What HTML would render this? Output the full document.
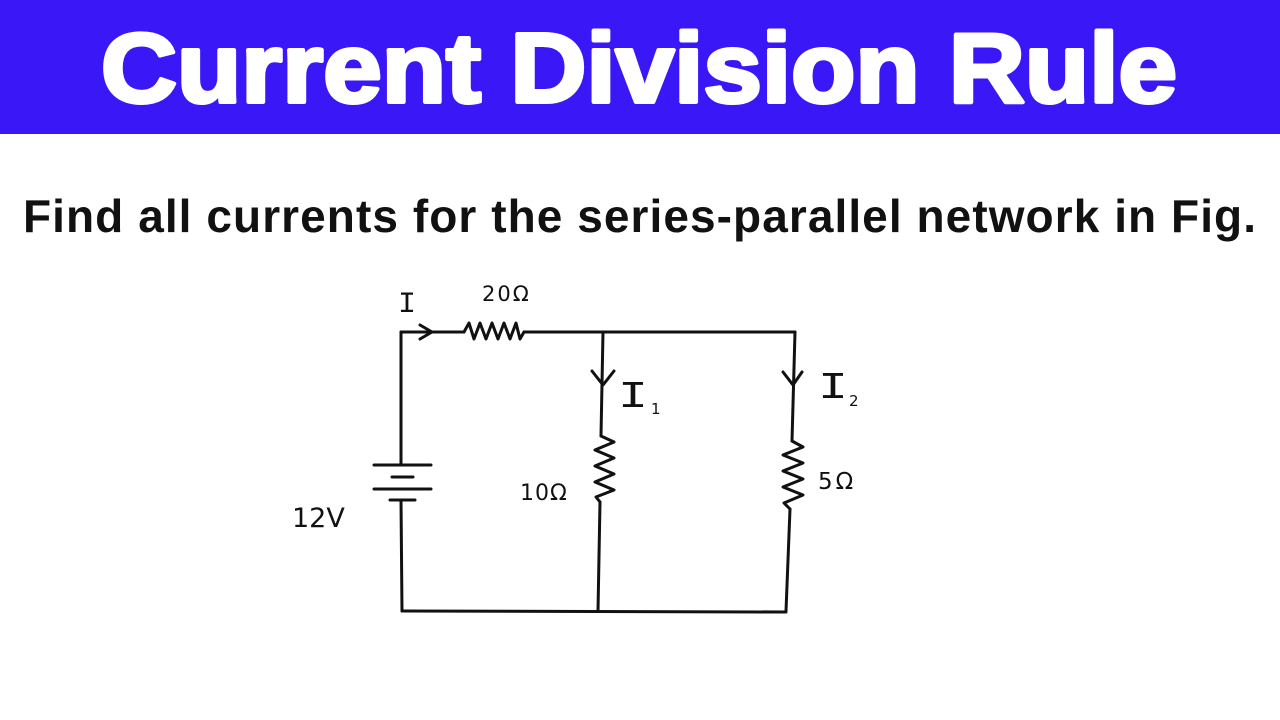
<!DOCTYPE html>
<html>
<head>
<meta charset="utf-8">
<style>
html,body{margin:0;padding:0;background:#fff;}
body{width:1280px;height:720px;overflow:hidden;position:relative;}
svg{display:block;}
</style>
</head>
<body>
<svg width="1280" height="720" viewBox="0 0 1280 720" xmlns="http://www.w3.org/2000/svg">
  <rect x="0" y="0" width="1280" height="720" fill="#ffffff"/>
  <!-- banner -->
  <rect x="0" y="0" width="1280" height="134" fill="#3a17f7"/>
  <text x="101" y="102" font-family="Liberation Sans, sans-serif" font-weight="bold" font-size="98" fill="#ffffff" stroke="#ffffff" stroke-width="4" stroke-linejoin="round" textLength="1076" lengthAdjust="spacingAndGlyphs">Current Division Rule</text>

  <!-- subtitle -->
  <text x="23" y="232" font-family="Liberation Sans, sans-serif" font-weight="bold" font-size="46" fill="#111" textLength="1233" lengthAdjust="spacing">Find all currents for the series-parallel network in Fig.</text>

  <!-- circuit -->
  <g fill="none" stroke="#111" stroke-width="3" stroke-linecap="round" stroke-linejoin="round">
    <path d="M401 332 L401 465"/>
    <path d="M401 500 L402 611"/>
    <path d="M401 332 L464 332"/>
    <path d="M524 332 L795 332"/>
    <polyline points="464,332 469,323 474,339 480,323 486,339 492,323 498,339 504,323 510,339 516,323 520,339 524,332"/>
    <polyline points="420,325 432,332 420,339"/>
    <path d="M603 332 L601 436"/>
    <polyline points="601,436 614,442 595,450 614,458 595,466 614,474 595,482 614,490 596,497 600,502"/>
    <path d="M600 502 L598 611"/>
    <polyline points="592,371 603,385 614,371"/>
    <path d="M795 332 L792 441"/>
    <polyline points="792,441 803,447 783,455 803,463 783,471 803,479 783,487 803,495 784,503 790,509"/>
    <path d="M790 509 L786 611"/>
    <polyline points="783,372 793,385 802,372"/>
    <path d="M402 611 L786 612"/>
    <path d="M374 465 L431 465"/>
    <path d="M392 477 L413 477"/>
    <path d="M374 489 L431 489"/>
    <path d="M390 500 L415 500"/>
  </g>

  <!-- labels -->
  <g font-family="DejaVu Sans, Liberation Sans, sans-serif" fill="#111">
    <text x="398" y="312" font-family="Liberation Mono, monospace" font-size="30">I</text>
    <text x="482" y="301" font-size="21" letter-spacing="2">20Ω</text>
    <text x="618" y="407" font-family="Liberation Mono, monospace" font-size="38" textLength="30" lengthAdjust="spacingAndGlyphs">I</text>
    <text x="651" y="414" font-size="15">1</text>
    <text x="818" y="398" font-family="Liberation Mono, monospace" font-size="38" textLength="30" lengthAdjust="spacingAndGlyphs">I</text>
    <text x="849" y="406" font-size="15">2</text>
    <text x="520" y="500" font-size="22" letter-spacing="1">10Ω</text>
    <text x="818" y="489" font-size="23" letter-spacing="3">5Ω</text>
    <text x="292" y="527" font-size="27">12V</text>
  </g>
</svg>
</body>
</html>
